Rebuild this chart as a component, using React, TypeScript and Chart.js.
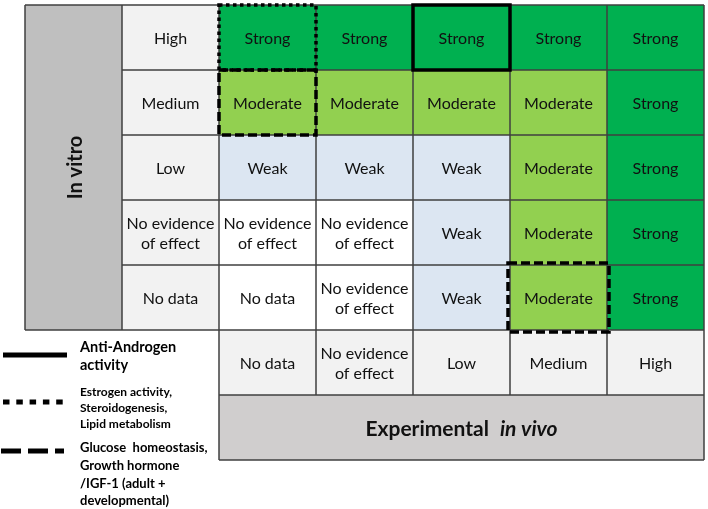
import React, { useEffect, useRef } from 'react';
import { Chart, registerables } from 'chart.js';

Chart.register(...registerables);

// ---- data ----
const colLabels = ['No data', 'No evidence\nof effect', 'Low', 'Medium', 'High'];
const rowLabels = ['High', 'Medium', 'Low', 'No evidence\nof effect', 'No data'];
const rowTitle = 'In vitro';
const colTitleBold = 'Experimental';
const colTitleItalic = 'in vivo';

const rowHigh = ['Strong', 'Strong', 'Strong', 'Strong', 'Strong'];
const rowMedium = ['Moderate', 'Moderate', 'Moderate', 'Moderate', 'Strong'];
const rowLow = ['Weak', 'Weak', 'Weak', 'Moderate', 'Strong'];
const rowNoEvidence = ['No evidence\nof effect', 'No evidence\nof effect', 'Weak', 'Moderate', 'Strong'];
const rowNoData = ['No data', 'No evidence\nof effect', 'Weak', 'Moderate', 'Strong'];
const cellRows = [rowHigh, rowMedium, rowLow, rowNoEvidence, rowNoData];

// highlighted cells: [rowIndex, colIndex, style]
const highlights: [number, number, string][] = [
  [0, 0, 'dotted'],
  [1, 0, 'dashed'],
  [0, 2, 'solid'],
  [4, 3, 'dashed'],
];

const legendSolid = ['Anti-Androgen', 'activity'];
const legendDotted = ['Estrogen activity,', 'Steroidogenesis,', 'Lipid metabolism'];
const legendDashed = ['Glucose  homeostasis,', 'Growth hormone', '/IGF-1 (adult +', 'developmental)'];

// ---- styles ----
const FONT = 'Lato, "Open Sans", "DejaVu Sans", sans-serif';
const colorFor: Record<string, string> = {
  Strong: '#00B050',
  Moderate: '#92D050',
  Weak: '#DCE6F2',
};
const LABEL_BG = '#F2F2F2';
const VITRO_BG = '#BFBFBF';
const VIVO_BG = '#D0CECE';
const GRID = '#3f3f3f';

const cellPoints = cellRows.flatMap((r, ri) => r.map((_, ci) => ({ x: ci + 0.5, y: ri + 0.5 })));

const gridPlugin = {
  id: 'gridTable',
  afterDatasetsDraw(chart: any) {
    const ctx: CanvasRenderingContext2D = chart.ctx;
    const xs = chart.scales.x;
    const ys = chart.scales.y;
    const X = (v: number) => xs.getPixelForValue(v);
    const Y = (v: number) => ys.getPixelForValue(v);
    const nR = rowLabels.length;
    const nC = colLabels.length;

    const fillCell = (x0: number, y0: number, x1: number, y1: number, color: string) => {
      ctx.fillStyle = color;
      ctx.fillRect(X(x0), Y(y0), X(x1) - X(x0), Y(y1) - Y(y0));
    };
    const text = (s: string, cx: number, cy: number, size: number) => {
      const lines = s.split('\n');
      ctx.font = `${size}px ${FONT}`;
      ctx.fillStyle = '#111';
      ctx.textAlign = 'center';
      ctx.textBaseline = 'middle';
      const lh = 20.5;
      lines.forEach((ln, i) => {
        ctx.fillText(ln, X(cx), Y(cy) + 1.5 + (i - (lines.length - 1) / 2) * lh);
      });
    };

    ctx.save();
    // backgrounds
    fillCell(-2, 0, -1, nR, VITRO_BG);
    for (let r = 0; r < nR; r++) fillCell(-1, r, 0, r + 1, LABEL_BG);
    cellRows.forEach((row, r) =>
      row.forEach((v, c) => fillCell(c, r, c + 1, r + 1, colorFor[v] || '#FFFFFF'))
    );
    for (let c = 0; c < nC; c++) fillCell(c, nR, c + 1, nR + 1, LABEL_BG);
    fillCell(0, nR + 1, nC, nR + 2, VIVO_BG);

    // grid lines
    ctx.strokeStyle = GRID;
    ctx.lineWidth = 1.5;
    const line = (x0: number, y0: number, x1: number, y1: number) => {
      ctx.beginPath();
      ctx.moveTo(X(x0), Y(y0));
      ctx.lineTo(X(x1), Y(y1));
      ctx.stroke();
    };
    line(-2, 0, nC, 0);
    for (let r = 1; r <= nR; r++) line(r === nR ? -2 : -1, r, nC, r);
    line(0, nR + 1, nC, nR + 1);
    line(0, nR + 2, nC, nR + 2);
    line(-2, 0, -2, nR);
    line(-1, 0, -1, nR);
    for (let c = 0; c < nC; c++) line(c, 0, c, nR + 1);
    line(0, nR + 1, 0, nR + 2);
    line(nC, 0, nC, nR + 2);

    // texts
    const size = 16;
    cellRows.forEach((row, r) => row.forEach((v, c) => text(v, c + 0.5, r + 0.5, size)));
    rowLabels.forEach((v, r) => text(v, -0.5, r + 0.5, size));
    colLabels.forEach((v, c) => text(v, c + 0.5, nR + 0.5, size));

    // row title (rotated)
    ctx.save();
    ctx.translate(X(-1.5) + 2, Y(nR / 2));
    ctx.rotate(-Math.PI / 2);
    ctx.font = `bold 20px ${FONT}`;
    ctx.fillStyle = '#111';
    ctx.textAlign = 'center';
    ctx.textBaseline = 'middle';
    ctx.fillText(rowTitle, 0, 0);
    ctx.restore();

    // column title
    const ts = 21;
    ctx.font = `bold ${ts}px ${FONT}`;
    const w1 = ctx.measureText(colTitleBold).width;
    ctx.font = `italic bold ${ts}px ${FONT}`;
    const w2 = ctx.measureText(colTitleItalic).width;
    const gap = 11;
    const total = w1 + gap + w2;
    const sx = X(nC / 2) - total / 2;
    const sy = Y(nR + 1.5) + 1.5;
    ctx.fillStyle = '#111';
    ctx.textAlign = 'left';
    ctx.textBaseline = 'middle';
    ctx.font = `bold ${ts}px ${FONT}`;
    ctx.fillText(colTitleBold, sx, sy);
    ctx.font = `italic bold ${ts}px ${FONT}`;
    ctx.fillText(colTitleItalic, sx + w1 + gap, sy);

    // highlights
    ctx.strokeStyle = '#000';
    highlights.forEach(([r, c, style]) => {
      ctx.lineWidth = 3.5;
      ctx.lineCap = 'butt';
      if (style === 'dotted') ctx.setLineDash([3.5, 3.5]);
      else if (style === 'dashed') ctx.setLineDash([9, 4]);
      else ctx.setLineDash([]);
      const out = style === 'dashed' && r === 4 ? 2 : 0;
      const x0 = X(c) - out;
      const y0 = Y(r) - out;
      const x1 = X(c + 1) + out;
      const y1 = Y(r + 1) + out;
      ctx.strokeRect(x0, y0, x1 - x0, y1 - y0);
    });
    ctx.setLineDash([]);

    // legend
    const lx0 = 3;
    const lx1 = 67;
    const tx = 80;
    ctx.fillStyle = '#000';
    ctx.textAlign = 'left';
    ctx.textBaseline = 'middle';
    // solid
    ctx.lineWidth = 5;
    ctx.beginPath();
    ctx.moveTo(lx0, 355);
    ctx.lineTo(lx1, 355);
    ctx.stroke();
    ctx.font = `bold 14.5px ${FONT}`;
    legendSolid.forEach((s, i) => ctx.fillText(s, tx, 347 + i * 18.5));
    // dotted
    ctx.setLineDash([6.5, 6.8]);
    ctx.beginPath();
    ctx.moveTo(lx0, 402);
    ctx.lineTo(64, 402);
    ctx.stroke();
    ctx.font = `bold 12px ${FONT}`;
    legendDotted.forEach((s, i) => ctx.fillText(s, tx, 392 + i * 16));
    // dashed
    ctx.setLineDash([20, 7]);
    ctx.beginPath();
    ctx.moveTo(1, 451);
    ctx.lineTo(64, 451);
    ctx.stroke();
    ctx.setLineDash([]);
    ctx.font = `bold 13px ${FONT}`;
    legendDashed.forEach((s, i) => ctx.fillText(s, tx, 448 + i * 17.7));

    ctx.restore();
  },
};

export default function App() {
  const ref = useRef<HTMLCanvasElement>(null);
  useEffect(() => {
    if (!ref.current) return;
    const chart = new Chart(ref.current, {
      type: 'scatter',
      data: {
        datasets: [
          {
            data: cellPoints,
            pointRadius: 0,
            pointHoverRadius: 0,
          },
        ],
      },
      options: {
        animation: false,
        responsive: true,
        maintainAspectRatio: false,
        events: [],
        layout: { padding: { left: 25, right: 4, top: 5, bottom: 49 } },
        plugins: { legend: { display: false }, tooltip: { enabled: false } },
        scales: {
          x: { type: 'linear', min: -2, max: 5, display: false },
          y: { type: 'linear', min: 0, max: 7, reverse: true, display: false },
        },
      },
      plugins: [gridPlugin],
    });
    return () => chart.destroy();
  }, []);
  return (
    <div style={{ position: 'fixed', left: 0, top: 0, width: 708, height: 509, background: '#fff' }}>
      <canvas ref={ref} />
    </div>
  );
}
